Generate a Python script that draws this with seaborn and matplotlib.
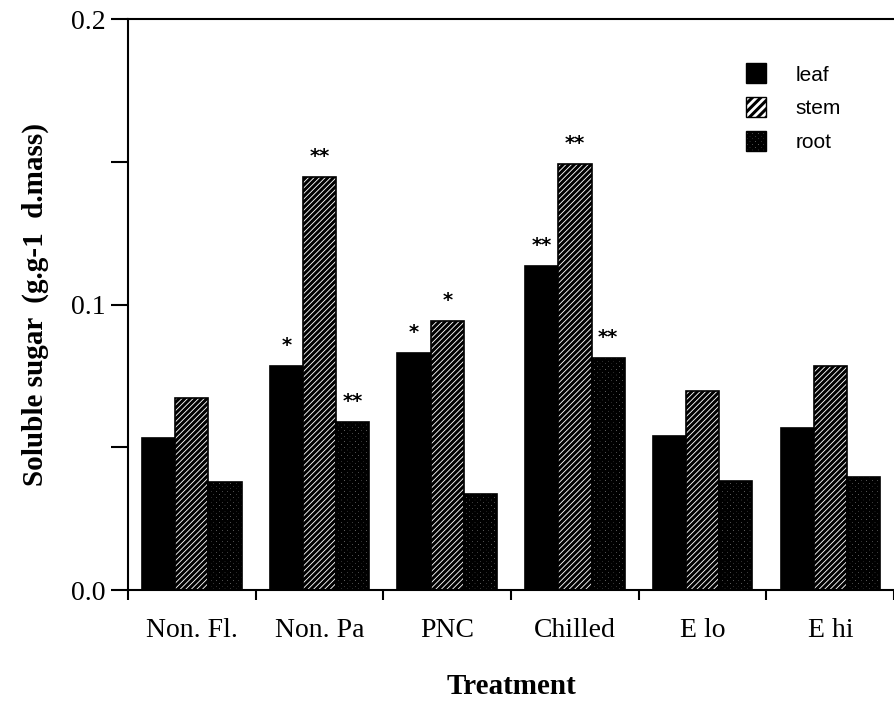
import matplotlib
matplotlib.use("Agg")
import matplotlib.pyplot as plt
import seaborn as sns
import pandas as pd
import numpy as np
from matplotlib.patches import Patch

treatments = ["Non. Fl.", "Non. Pa", "PNC", "Chilled", "E lo", "E hi"]
organs = ["leaf", "stem", "root"]
leaf = [0.0532, 0.0785, 0.0830, 0.1135, 0.0540, 0.0567]
stem = [0.0673, 0.1447, 0.0942, 0.1492, 0.0697, 0.0785]
root = [0.0378, 0.0588, 0.0336, 0.0813, 0.0382, 0.0396]
leaf_sig = ["", "*", "*", "**", "", ""]
stem_sig = ["", "**", "*", "**", "", ""]
root_sig = ["", "**", "", "**", "", ""]

df = pd.DataFrame({
    "Treatment": treatments * 3,
    "organ": ["leaf"] * 6 + ["stem"] * 6 + ["root"] * 6,
    "value": leaf + stem + root,
})

sns.set_theme(style="white")
plt.rcParams.update({
    "hatch.linewidth": 2.2,
    "text.color": "black",
    "axes.labelcolor": "black",
    "xtick.color": "black",
    "ytick.color": "black",
})
serif = ["Liberation Serif", "DejaVu Serif"]

fig = plt.figure(figsize=(8.94, 7.05), dpi=100)
ax = fig.add_axes([0.1432, 0.163, 0.857, 0.810])

sns.barplot(data=df, x="Treatment", y="value", hue="organ", order=treatments,
            hue_order=organs, width=0.78, gap=0, ax=ax, legend=False,
            errorbar=None, saturation=1)

styles = {
    "leaf": dict(facecolor="black", edgecolor="black", hatch=None),
    "stem": dict(facecolor="white", edgecolor="black", hatch="//////"),
    "root": dict(facecolor="#8c8c8c", edgecolor="black", hatch="xxxxxx"),
}
sigs = {"leaf": leaf_sig, "stem": stem_sig, "root": root_sig}
for organ, cont in zip(organs, ax.containers):
    st = styles[organ]
    for bar, s in zip(cont.patches, sigs[organ]):
        bar.set_facecolor(st["facecolor"])
        bar.set_edgecolor(st["edgecolor"])
        bar.set_linewidth(1.2)
        if st["hatch"]:
            bar.set_hatch(st["hatch"])
        if s:
            ax.text(bar.get_x() + bar.get_width() / 2, bar.get_height() + 0.004, s,
                    ha="center", va="bottom", fontsize=14, fontweight="bold",
                    family=["DejaVu Sans"])

ax.set_xlim(-0.5, 5.5)
ax.set_ylim(0, 0.2)
ax.set_yticks([0.0, 0.05, 0.1, 0.15, 0.2])
ax.set_yticklabels(["0.0", "", "0.1", "", "0.2"], family=serif, fontsize=20)
ax.set_xticks(range(6))
ax.set_xticklabels(treatments, family=serif, fontsize=20)
ax.set_xticks(np.arange(-0.5, 6.0, 1.0), minor=True)
ax.tick_params(axis="x", which="major", length=0, pad=20)
ax.tick_params(axis="x", which="minor", length=7, width=1.5, direction="out", color="black")
ax.tick_params(axis="y", which="major", length=12, width=1.5, direction="out", color="black", pad=4)
ax.tick_params(axis="y", left=True)
ax.tick_params(axis="x", bottom=True, which="minor")

for side in ["left", "bottom", "top"]:
    ax.spines[side].set_visible(True)
    ax.spines[side].set_color("black")
    ax.spines[side].set_linewidth(1.5)
ax.spines["right"].set_visible(False)

ax.set_xlabel("Treatment", family=serif, fontsize=21, fontweight="bold", labelpad=22)
ax.set_ylabel("Soluble sugar  (g.g-1  d.mass)", family=serif, fontsize=21,
              fontweight="bold", labelpad=16)

handles = [Patch(facecolor="black", edgecolor="black", label="leaf"),
           Patch(facecolor="white", edgecolor="black", hatch="////", label="stem"),
           Patch(facecolor="#8c8c8c", edgecolor="black", hatch="xxxxxx", label="root")]
leg = ax.legend(handles=handles, loc="upper right", bbox_to_anchor=(0.955, 0.955),
                frameon=False, prop={"family": ["Liberation Sans"], "size": 15},
                handlelength=1.0, handleheight=1.1, handletextpad=1.4, labelspacing=0.6)

fig.savefig("out.png", dpi=100)
